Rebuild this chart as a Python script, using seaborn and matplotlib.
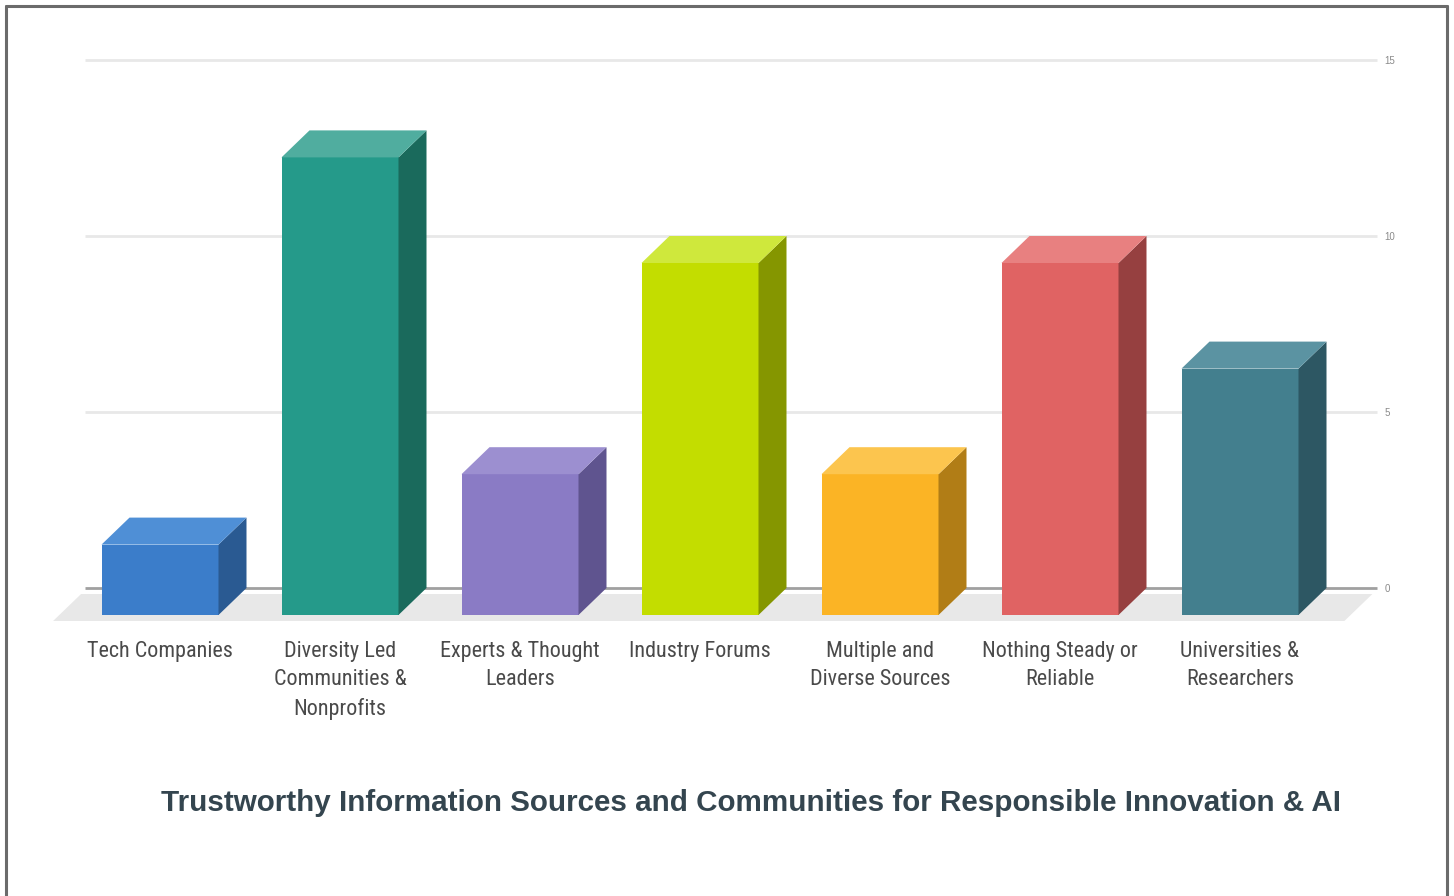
import matplotlib
matplotlib.use("Agg")
import matplotlib.pyplot as plt
import pandas as pd
import seaborn as sns
from matplotlib import font_manager as fm
from matplotlib.patches import Polygon
from matplotlib.lines import Line2D
from matplotlib.transforms import ScaledTranslation

# ---- data -------------------------------------------------------------
categories = [
    "Tech Companies",
    "Diversity Led\nCommunities &\nNonprofits",
    "Experts & Thought\nLeaders",
    "Industry Forums",
    "Multiple and\nDiverse Sources",
    "Nothing Steady or\nReliable",
    "Universities &\nResearchers",
]
counts = [2, 13, 4, 10, 4, 10, 7]
y_ticks = [0, 5, 10, 15]
title = "Trustworthy Information Sources and Communities for Responsible Innovation & AI"

# face colours of each 3-D block: front, right side, top
front_colors = ["#3b7dca", "#259a8a", "#8a7bc5", "#c3dd00", "#fbb425", "#e06363", "#437f8e"]
side_colors = ["#2a5a92", "#1a6a5c", "#5f548f", "#859600", "#b17d16", "#964040", "#2d5763"]
top_colors = ["#4f8fd6", "#50ad9f", "#9c8fd0", "#cfe83c", "#fcc54e", "#e88080", "#5b93a2"]

# ---- figure -----------------------------------------------------------
sns.set_theme(style="white")
plt.rcParams["font.family"] = ["Liberation Sans", "DejaVu Sans"]

# condensed face for the category labels, if one is installed
installed = {f.name for f in fm.fontManager.ttflist}
label_family = next(
    (n for n in ["Liberation Sans Narrow", "Arimo Narrow", "Roboto Condensed",
                 "PT Sans Narrow", "Archivo Narrow", "Open Sans Condensed"]
     if n in installed),
    "Liberation Sans",
)

W, H, DPI = 1454, 896, 100
fig = plt.figure(figsize=(W / DPI, H / DPI), dpi=DPI)
fig.patch.set_facecolor("white")
renderer = fig.canvas.get_renderer()

# label size chosen so that "Tech Companies" is about 147 px wide
probe = fig.text(0, 0, categories[0], family=[label_family, "DejaVu Sans"], fontsize=14)
label_size = 14 * 147 / probe.get_window_extent(renderer).width
probe.remove()

ax_left, ax_bottom, ax_w, ax_h = 70, 281, 1260, 528
ax = fig.add_axes([ax_left / W, ax_bottom / H, ax_w / W, ax_h / H])
ax.set_facecolor("none")

df = pd.DataFrame({"source": categories, "count": counts})
sns.barplot(
    data=df, x="source", y="count", hue="source", palette=front_colors,
    legend=False, width=0.65, saturation=1, linewidth=0, ax=ax, zorder=3,
)

ax.set_xlim(-0.5, len(categories) - 0.5)
ax.set_ylim(y_ticks[0], y_ticks[-1])

# depth of the blocks in pixels, converted to data units
px_x = ax_w / len(categories)
px_y = ax_h / (y_ticks[-1] - y_ticks[0])
DEPTH_PX_X, DEPTH_PX_Y = 28, 27
dx = DEPTH_PX_X / px_x
dy = DEPTH_PX_Y / px_y

# floor plate under the blocks
fy = -6 / px_y
floor = Polygon(
    [(-0.594, fy), (6.58, fy), (6.58 + dx, fy + dy), (-0.594 + dx, fy + dy)],
    closed=True, facecolor="#e8e8e8", edgecolor="none", zorder=0.5, clip_on=False,
)
ax.add_patch(floor)

# gridlines on the back wall
gx0 = (85 - ax_left) / px_x - 0.5
gx1 = (1377 - ax_left) / px_x - 0.5
for v in y_ticks:
    ax.plot([gx0, gx1], [v + dy, v + dy],
            color="#a0a0a0" if v == 0 else "#e8e8e8",
            lw=2, zorder=1, clip_on=False, solid_capstyle="butt")

# side and top faces of each block
for i, cont in enumerate(ax.containers):
    for bar in cont:
        x0, w, h = bar.get_x(), bar.get_width(), bar.get_height()
        side = Polygon(
            [(x0 + w, 0), (x0 + w + dx, dy), (x0 + w + dx, h + dy), (x0 + w, h)],
            closed=True, facecolor=side_colors[i], edgecolor="none",
            zorder=3, clip_on=False,
        )
        top = Polygon(
            [(x0, h), (x0 + w, h), (x0 + w + dx, h + dy), (x0 + dx, h + dy)],
            closed=True, facecolor=top_colors[i], edgecolor="none",
            zorder=3, clip_on=False,
        )
        ax.add_patch(side)
        ax.add_patch(top)

# axes styling
for s in ax.spines.values():
    s.set_visible(False)
ax.set_xlabel("")
ax.set_ylabel("")
ax.grid(False)

ax.yaxis.tick_right()
ax.set_yticks(y_ticks)
ax.set_yticklabels([str(t) for t in y_ticks])
ax.tick_params(axis="y", length=0, pad=19, labelsize=7, labelcolor="#8a8a8a")
shift = ScaledTranslation(DEPTH_PX_X / DPI, DEPTH_PX_Y / DPI, fig.dpi_scale_trans)
for lbl in ax.get_yticklabels():
    lbl.set_transform(lbl.get_transform() + shift)

# line pitch of about 29 px between label lines
ax.set_xticks(range(len(categories)))
ax.set_xticklabels(categories, family=[label_family, "DejaVu Sans"],
                   fontsize=label_size, color="#4a4a4a",
                   linespacing=1.42 * 16.5 / label_size)
ax.tick_params(axis="x", length=0, pad=18.5)

# title
fig.text(751 / W, 1 - 803 / H, title, ha="center", va="center",
         fontsize=21.3, fontweight="bold", color="#34454f")

# frame around the figure (left, top, right)
fc = "#6b6b6b"
fig.add_artist(Line2D([6 / W, 6 / W], [0, 1 - 6 / H], color=fc, lw=2.2))
fig.add_artist(Line2D([6 / W, 1447 / W], [1 - 6 / H, 1 - 6 / H], color=fc, lw=2.2))
fig.add_artist(Line2D([1447 / W, 1447 / W], [0, 1 - 6 / H], color=fc, lw=2.2))

fig.savefig("out.png", dpi=DPI)
